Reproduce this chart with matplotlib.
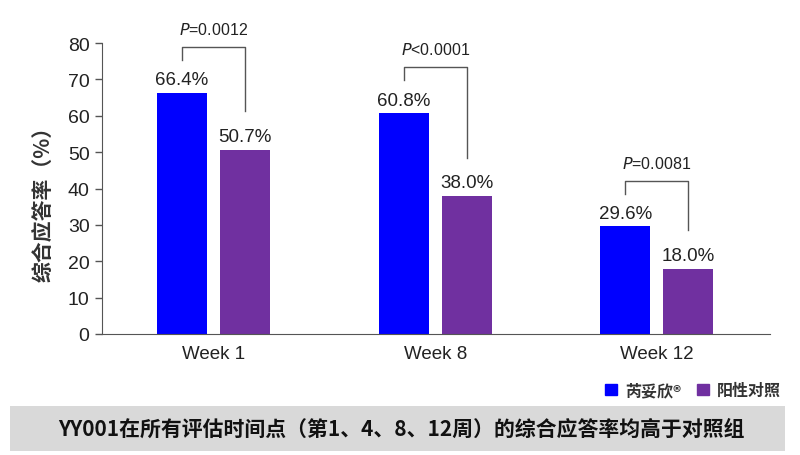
import matplotlib
matplotlib.use('Agg')
import matplotlib.pyplot as plt
from matplotlib.patches import Rectangle, Patch

# 数据
weeks = ['Week 1', 'Week 8', 'Week 12']
yy001 = [66.4, 60.8, 29.6]
control = [50.7, 38.0, 18.0]
p_text = ['=0.0012', '<0.0001', '=0.0081']
series_names = ['芮妥欣®', '阳性对照']

blue = '#0000FF'
purple = '#7030A0'
cjk = ['Noto Sans CJK SC', 'DejaVu Sans']
latin = ['Liberation Sans', 'DejaVu Sans']

plt.rcParams['font.family'] = latin

fig = plt.figure(figsize=(8, 4.56), dpi=100)
ax = fig.add_axes([0.1275, 0.2654, 0.835, 0.638])

x = list(range(len(weeks)))
w = 0.2255
off = 0.142
xb = [i - off for i in x]
xp = [i + off for i in x]

ax.bar(xb, yy001, width=w, color=blue)
ax.bar(xp, control, width=w, color=purple)

for i in x:
    ax.text(xb[i], yy001[i] + 2.3, f'{yy001[i]:.1f}%', ha='center', va='baseline',
            fontsize=13.5, color='#222222')
    ax.text(xp[i], control[i] + 2.3, f'{control[i]:.1f}%', ha='center', va='baseline',
            fontsize=13.5, color='#222222')
    # 显著性括号
    y_left = yy001[i] + 9.0
    y_right = control[i] + 10.5
    y_top = y_left + 3.5
    ax.plot([xb[i], xb[i], xp[i], xp[i]], [y_left, y_top, y_top, y_right],
            color='#555555', lw=1.0, clip_on=False)
    ax.text((xb[i] + xp[i]) / 2, y_top + 3.6, '$\\it{P}$' + p_text[i],
            ha='center', va='baseline', fontsize=11.5, color='#222222')

ax.set_xlim(-0.503, 2.51)
ax.set_ylim(0, 80)
ax.set_yticks(range(0, 81, 10))
ax.set_xticks(x)
ax.set_xticklabels(weeks, fontsize=13.5, color='#222222')
ax.tick_params(axis='x', length=0, pad=8)
ax.tick_params(axis='y', length=5, width=1, color='#555555', labelsize=14,
               labelcolor='#222222', pad=4)
ax.spines['top'].set_visible(False)
ax.spines['right'].set_visible(False)
ax.spines['left'].set_color('#555555')
ax.spines['bottom'].set_color('#555555')

ax.set_ylabel('综合应答率（%）', family=cjk, fontsize=15, fontweight='bold',
              color='#333333')
ax.yaxis.set_label_coords(-0.071, 0.467)

handles = [Patch(color=blue), Patch(color=purple)]
leg = fig.legend(handles, series_names, loc='center', bbox_to_anchor=(693 / 800, 1 - 391 / 456),
                 ncol=2, frameon=False, handlelength=0.75, handleheight=0.75,
                 columnspacing=1.0, handletextpad=0.5,
                 prop={'family': cjk, 'size': 11.5, 'weight': 'bold'})
for t in leg.get_texts():
    t.set_color('#333333')

# 底部说明框
fig.patches.append(Rectangle((10 / 800, 1 - 452 / 456), 775 / 800, 45 / 456,
                             transform=fig.transFigure, facecolor='#d9d9d9',
                             edgecolor='none', zorder=0))
fig.text(401 / 800, 1 - 429 / 456,
         'YY001在所有评估时间点（第1、4、8、12周）的综合应答率均高于对照组',
         ha='center', va='center', family=cjk, fontsize=15, fontweight='bold',
         color='#111111')

fig.savefig('out.png', dpi=100)
